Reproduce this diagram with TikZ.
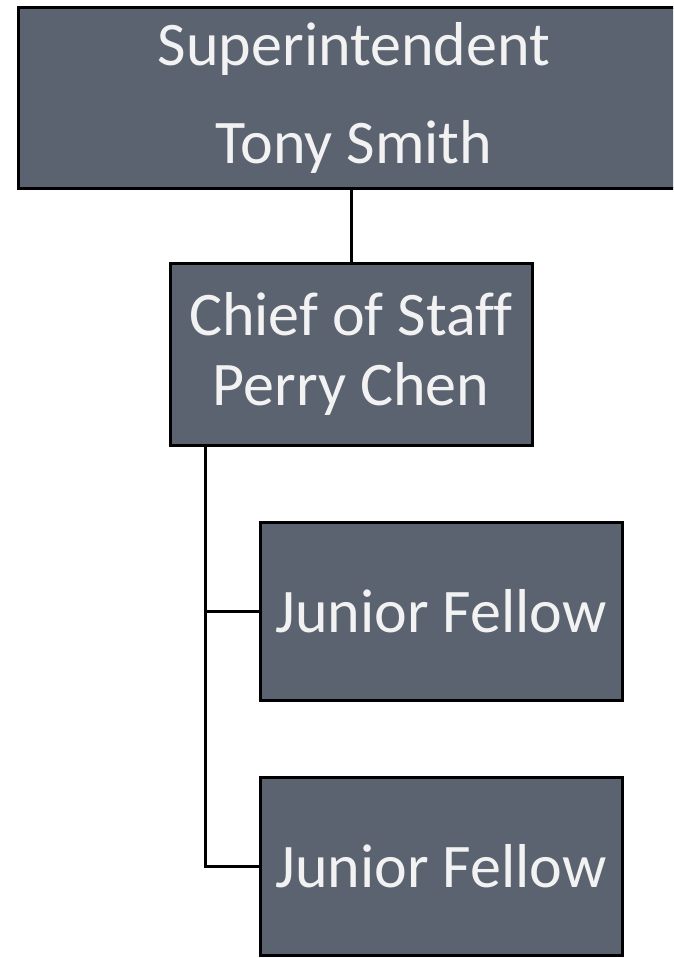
\documentclass[tikz,border=0pt]{standalone}
\usepackage{fontspec}
\setmainfont[Ligatures=CommonOff]{Carlito}
\usepackage{tikz}
\usepackage{xcolor}
\usetikzlibrary{positioning, calc}
\definecolor{cSlate}{RGB}{91,99,112}
\definecolor{cPale}{RGB}{242,242,242}
\tikzset{
	post/.style   ={rectangle, draw=black, line width=3pt, fill=cSlate, text=cPale, align=center, inner sep=0pt},
	orgline/.style={line width=3pt, draw=black},
}

\begin{document}
\begin{tikzpicture}[x=1pt, y=-1pt, font=\fontsize{62}{70}\selectfont]
	\useasboundingbox (0,0) rectangle (673,958);
	\clip (0,0) rectangle (673,958);
	\fill[white] (0,0) rectangle (673,958);
	% boxes
	\node[post, minimum width=672pt, minimum height=180pt] (supt) at (354,98) {Superintendent\\[28pt]Tony Smith};
	\node[post, minimum width=362pt, minimum height=182pt] (chief) at (351,354) {Chief of Staff\\Perry Chen};
	\node[post, minimum width=362pt, minimum height=178pt] (jf1) at (441,611) {Junior Fellow};
	\node[post, minimum width=362pt, minimum height=178pt] (jf2) at (441,866) {Junior Fellow};
	% connectors
	\coordinate (trunk) at ($(chief.south west)+(37,0)$);
	\draw[orgline] (supt.south -| chief.north) -- (chief.north);
	\draw[orgline] (trunk) |- (jf2.west);
	\draw[orgline] (trunk |- jf1.west) -- (jf1.west);
\end{tikzpicture}
\end{document}
